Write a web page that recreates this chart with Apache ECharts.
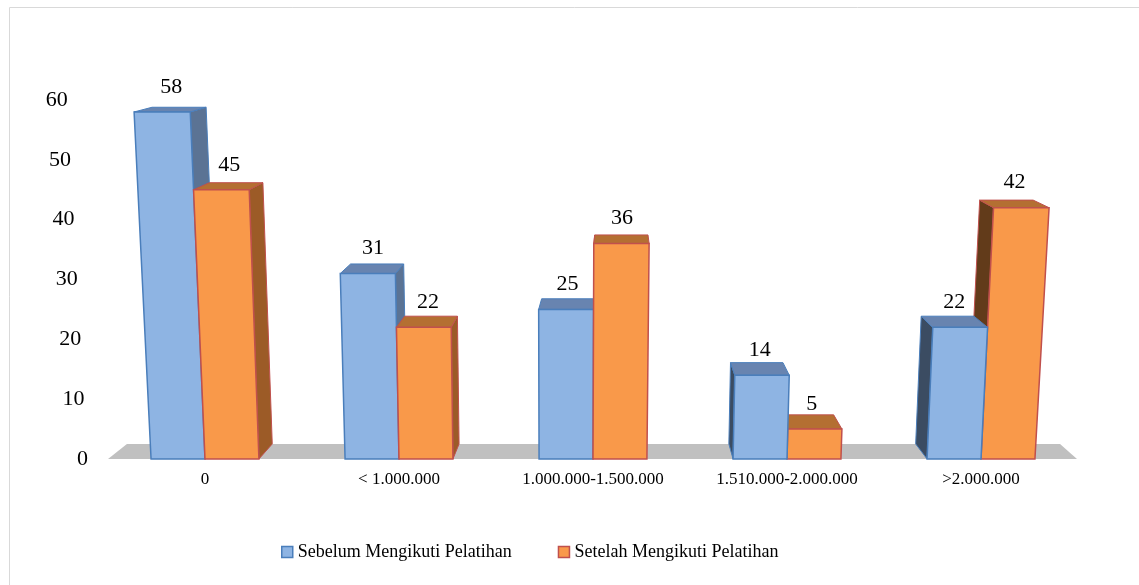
<!DOCTYPE html>
<html lang="id">
<head>
  <meta charset="UTF-8">
  <title>Pendapatan Sebelum dan Setelah Pelatihan</title>
  <script src="https://cdn.jsdelivr.net/npm/echarts@6/dist/echarts.min.js"></script>
  <style>
    html, body { margin: 0; padding: 0; background: #fff; }
    #chart { width: 1139px; height: 585px; }
  </style>
</head>
<body>
  <div id="chart"></div>
  <script>
    // data
    const categories = ['0', '< 1.000.000', '1.000.000-1.500.000', '1.510.000-2.000.000', '>2.000.000'];
    const sebelum = [58, 31, 25, 14, 22];
    const setelah = [45, 22, 36, 5, 42];
    const seriesNames = ['Sebelum Mengikuti Pelatihan', 'Setelah Mengikuti Pelatihan'];
    const yTicks = [0, 10, 20, 30, 40, 50, 60];

    const FONT = '"Liberation Serif", "Times New Roman", serif';

    // colours for the fake 3D prisms
    const colors = [
      { front: '#8eb4e3', stroke: '#4a7ebb', top: '#6884b0', sideR: '#5b7394', sideL: '#3b4c62' },
      { front: '#f9994a', stroke: '#c0504d', top: '#b46f32', sideR: '#9c5b27', sideL: '#623b1a' }
    ];

    // perspective: vertical lean + depth offset toward a vanishing point
    const CX = 562, D = 8400;
    const VX = 619, VY = -45, KX = 0.037, KY = 0.03;

    function lean(x, y, y0) {
      return [CX + (x - CX) * (1 + (y0 - y) / D), y];
    }
    function back(p) {
      return [p[0] + KX * (VX - p[0]), p[1] + KY * (VY - p[1])];
    }

    function renderBar(si) {
      return function (params, api) {
        const idx = api.value(0);
        const val = api.value(1);
        const base = api.coord([idx, 0]);
        const topPt = api.coord([idx, val]);
        const band = api.size([1, 0])[0];
        const w = band * 0.278;
        const xl = si === 0 ? base[0] - w : base[0];
        const xr = xl + w;
        const y0 = base[1], y1 = topPt[1];

        const fbl = lean(xl, y0, y0), fbr = lean(xr, y0, y0);
        const ftl = lean(xl, y1, y0), ftr = lean(xr, y1, y0);
        const bbl = back(fbl), bbr = back(fbr), btl = back(ftl), btr = back(ftr);
        const c = colors[si];
        const dx = KX * (VX - (xl + xr) / 2);

        // which bar of the pair sits in front
        const order = dx > 0 ? (si === 0 ? 0 : 10) : (si === 0 ? 10 : 0);

        const side = dx > 0 ? [fbr, ftr, btr, bbr] : [fbl, ftl, btl, bbl];
        const children = [
          {
            type: 'polygon', z2: order + 1,
            shape: { points: side },
            style: { fill: dx > 0 ? c.sideR : c.sideL, stroke: c.stroke, lineWidth: 1 }
          },
          {
            type: 'polygon', z2: order + 2,
            shape: { points: [ftl, ftr, btr, btl] },
            style: { fill: c.top, stroke: c.stroke, lineWidth: 1 }
          },
          {
            type: 'polygon', z2: order + 3,
            shape: { points: [fbl, fbr, ftr, ftl] },
            style: { fill: c.front, stroke: c.stroke, lineWidth: 1.5 }
          },
          {
            type: 'text', z2: 50,
            style: {
              text: String(val),
              x: (ftl[0] + ftr[0]) / 2 + (btl[0] - ftl[0]) / 2,
              y: y1 - 25,
              align: 'center', verticalAlign: 'middle',
              font: '22px ' + FONT, fill: '#000'
            }
          }
        ];
        return { type: 'group', children: children };
      };
    }

    function renderFloor(params, api) {
      const c0 = api.coord([0, 0]);
      const band = api.size([1, 0])[0];
      const left = c0[0] - band / 2;
      const right = left + band * categories.length - 1;
      const fl = [left, c0[1]], fr = [right, c0[1]];
      return {
        type: 'polygon', z2: -10,
        shape: { points: [fl, fr, back(fr), back(fl)] },
        style: { fill: '#c0c0c0' }
      };
    }

    function renderTick(params, api) {
      const v = api.value(1);
      const c0 = api.coord([0, 0]);
      const p = api.coord([0, v]);
      const band = api.size([1, 0])[0];
      const x = c0[0] - band / 2 - 20;
      const q = lean(x, p[1], c0[1]);
      return {
        type: 'text',
        style: {
          text: String(v), x: q[0], y: q[1],
          align: 'right', verticalAlign: 'middle',
          font: '22px ' + FONT, fill: '#000'
        }
      };
    }

    const chart = echarts.init(document.getElementById('chart'));

    const option = {
      animation: false,
      graphic: [{
        type: 'rect',
        shape: { x: 9.5, y: 7.5, width: 1200, height: 700 },
        style: { fill: 'none', stroke: '#d9d9d9', lineWidth: 1 },
        silent: true
      }],
      legend: {
        left: 276,
        top: 538,
        itemWidth: 11,
        itemHeight: 11,
        itemGap: 46,
        icon: 'rect',
        textStyle: { fontFamily: FONT, fontSize: 18, color: '#000' },
        data: [
          { name: seriesNames[0], itemStyle: { color: colors[0].front, borderColor: colors[0].stroke, borderWidth: 1.5 } },
          { name: seriesNames[1], itemStyle: { color: colors[1].front, borderColor: colors[1].stroke, borderWidth: 1.5 } }
        ]
      },
      grid: { left: 108, right: 61, top: 100, bottom: 126 },
      xAxis: {
        type: 'category',
        data: categories,
        axisLine: { show: false },
        axisTick: { show: false },
        axisLabel: { interval: 0, fontFamily: FONT, fontSize: 17, color: '#000', margin: 12 }
      },
      yAxis: {
        type: 'value',
        min: 0,
        max: 60,
        interval: 10,
        axisLine: { show: false },
        axisTick: { show: false },
        axisLabel: { show: false },
        splitLine: { show: false }
      },
      series: [
        {
          name: 'floor', type: 'custom', z: 1, silent: true,
          renderItem: renderFloor,
          data: [[0, 0]]
        },
        {
          name: 'ticks', type: 'custom', z: 1, silent: true,
          renderItem: renderTick,
          data: yTicks.map(v => [0, v])
        },
        {
          name: seriesNames[0], type: 'custom', z: 2,
          itemStyle: { color: colors[0].front },
          renderItem: renderBar(0),
          data: sebelum.map((v, i) => [i, v])
        },
        {
          name: seriesNames[1], type: 'custom', z: 2,
          itemStyle: { color: colors[1].front },
          renderItem: renderBar(1),
          data: setelah.map((v, i) => [i, v])
        }
      ]
    };

    chart.setOption(option);
  </script>
</body>
</html>
